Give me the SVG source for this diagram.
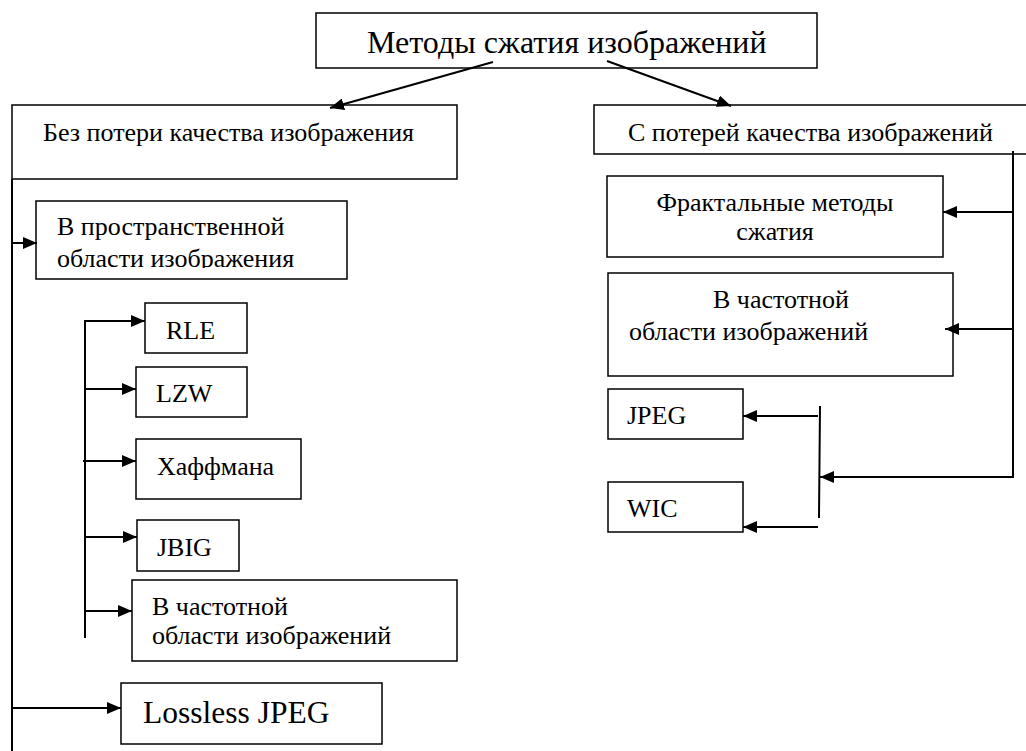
<svg xmlns="http://www.w3.org/2000/svg" width="1026" height="751" viewBox="0 0 1026 751">
<style>
.box{fill:#fff;stroke:#000;stroke-width:1.5}
.t{font-family:"Liberation Serif","Times New Roman",serif;font-size:26px;fill:#000}
.big{font-size:32px}
.lj{font-size:31.5px}
.c{fill:none;stroke:#000;stroke-width:2}
</style>
<defs>
<marker id="ah" viewBox="0 0 14 12" refX="14" refY="6" markerWidth="14" markerHeight="12" markerUnits="userSpaceOnUse" orient="auto">
<path d="M0,0 L14,6 L0,12 z" fill="#000"/>
</marker>
<clipPath id="clipSp"><rect x="36" y="201" width="311" height="67"/></clipPath>
</defs>
<rect width="1026" height="751" fill="#fff"/>
<g id="n-root"><rect class="box" x="316" y="13" width="501" height="55"/><text class="t big" x="367" y="53">Методы сжатия изображений</text></g>
<g id="n-lossless"><rect class="box" x="12" y="105" width="445" height="74"/><text class="t" x="43" y="141">Без потери качества изображения</text></g>
<g id="n-lossy"><rect class="box" x="594" y="105" width="440" height="49"/><text class="t" x="628" y="141">С потерей качества изображений</text></g>
<g id="n-spatial"><rect class="box" x="36" y="201" width="311" height="78"/><g clip-path="url(#clipSp)"><text class="t" x="57" y="235">В пространственной</text><text class="t" x="57" y="267">области изображения</text></g></g>
<g id="n-rle"><rect class="box" x="145" y="303" width="102" height="50"/><text class="t" x="166" y="339">RLE</text></g>
<g id="n-lzw"><rect class="box" x="136" y="367" width="111" height="50"/><text class="t" x="156" y="402">LZW</text></g>
<g id="n-huff"><rect class="box" x="136" y="439" width="165" height="60"/><text class="t" x="157" y="475">Хаффмана</text></g>
<g id="n-jbig"><rect class="box" x="137" y="520" width="102" height="51"/><text class="t" x="157" y="556">JBIG</text></g>
<g id="n-freq-left"><rect class="box" x="132" y="580" width="325" height="81"/><text class="t" x="152" y="615">В частотной</text><text class="t" x="152" y="644">области изображений</text></g>
<g id="n-ljpeg"><rect class="box" x="121" y="683" width="261" height="61"/><text class="t lj" x="143" y="723">Lossless JPEG</text></g>
<g id="n-fractal"><rect class="box" x="607" y="176" width="336" height="81"/><text class="t" x="775" y="211" text-anchor="middle">Фрактальные методы</text><text class="t" x="775" y="240" text-anchor="middle">сжатия</text></g>
<g id="n-freq-right"><rect class="box" x="608" y="273" width="345" height="103"/><text class="t" x="713" y="308">В частотной</text><text class="t" x="629" y="340">области изображений</text></g>
<g id="n-jpeg"><rect class="box" x="608" y="389" width="135" height="50"/><text class="t" x="627" y="424">JPEG</text></g>
<g id="n-wic"><rect class="box" x="608" y="482" width="135" height="50"/><text class="t" x="627" y="517">WIC</text></g>
<g id="connectors">
<path class="c" d="M493,62 L330,108" marker-end="url(#ah)"/>
<path class="c" d="M607,61 L731,106" marker-end="url(#ah)"/>
<path class="c" d="M12,179 L12,751"/>
<path class="c" d="M12,243 L37,243" marker-end="url(#ah)"/>
<path class="c" d="M12,708 L121,708" marker-end="url(#ah)"/>
<path class="c" d="M85,321 L85,638"/>
<path class="c" d="M84,321 L145,321" marker-end="url(#ah)"/>
<path class="c" d="M84,389 L136,389" marker-end="url(#ah)"/>
<path class="c" d="M83,461 L136,461" marker-end="url(#ah)"/>
<path class="c" d="M84,537 L137,537" marker-end="url(#ah)"/>
<path class="c" d="M84,611 L132,611" marker-end="url(#ah)"/>
<path class="c" d="M1013,151 L1013,477 L820,477" marker-end="url(#ah)"/>
<path class="c" d="M1013,212 L943,212" marker-end="url(#ah)"/>
<path class="c" d="M1013,329 L945,329" marker-end="url(#ah)"/>
<path class="c" d="M820,406 L819,518"/>
<path class="c" d="M818,416 L743,416" marker-end="url(#ah)"/>
<path class="c" d="M818,527 L743,527" marker-end="url(#ah)"/>
</g>
</svg>
